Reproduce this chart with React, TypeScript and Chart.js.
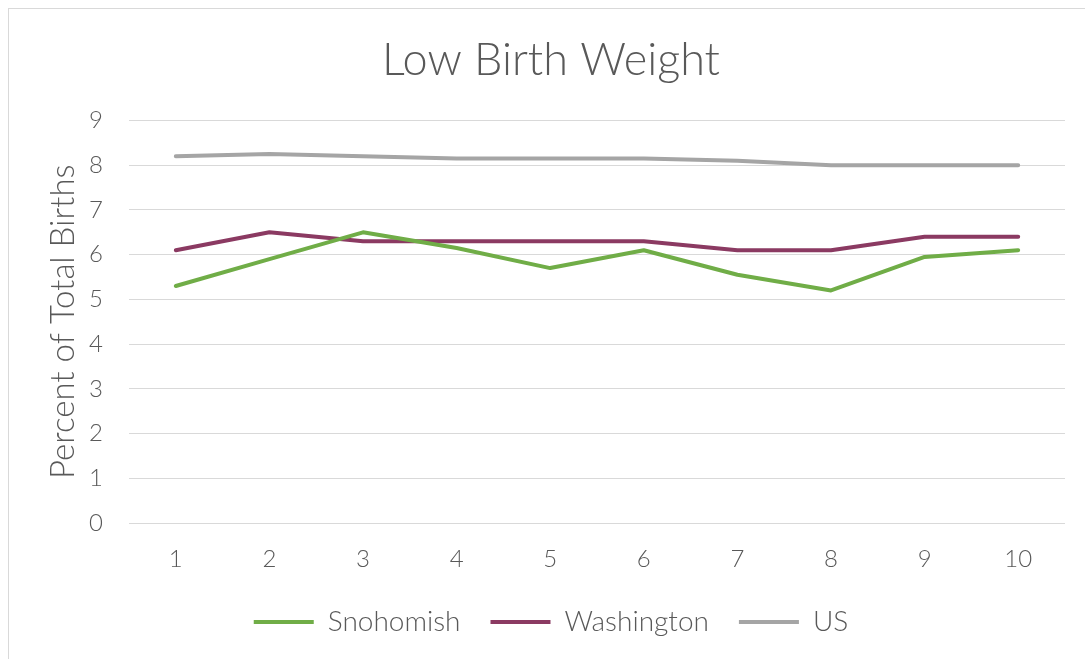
import React, { useEffect, useRef } from "react";
import { Chart, registerables } from "chart.js";

Chart.register(...registerables);

const categories = ["1", "2", "3", "4", "5", "6", "7", "8", "9", "10"];
const snohomish = [5.3, 5.9, 6.5, 6.15, 5.7, 6.1, 5.55, 5.2, 5.95, 6.1];
const washington = [6.1, 6.5, 6.3, 6.3, 6.3, 6.3, 6.1, 6.1, 6.4, 6.4];
const us = [8.2, 8.25, 8.2, 8.15, 8.15, 8.15, 8.1, 8.0, 8.0, 8.0];

const FONT = "Lato, 'Open Sans', sans-serif";
const TEXT = "#595959";

export default function App() {
  const ref = useRef<HTMLCanvasElement | null>(null);

  useEffect(() => {
    document.body.style.overflow = "hidden";
    const ctx = ref.current!;
    const mk = (label: string, data: number[], color: string) => ({
      label,
      data,
      borderColor: color,
      backgroundColor: color,
      borderWidth: 4,
      borderCapStyle: "round" as const,
      borderJoinStyle: "round" as const,
      pointRadius: 0,
      pointHoverRadius: 0,
      tension: 0,
      fill: false,
    });
    const chart = new Chart(ctx, {
      type: "line",
      data: {
        labels: categories,
        datasets: [
          mk("Snohomish", snohomish, "#70AD47"),
          mk("Washington", washington, "#8B3A62"),
          mk("US", us, "#A5A5A5"),
        ],
      },
      options: {
        animation: false,
        responsive: false,
        maintainAspectRatio: false,
        layout: { padding: { left: 37, right: 20, top: 0, bottom: 13 } },
        plugins: {
          tooltip: { enabled: false },
          title: {
            display: true,
            text: "Low Birth Weight",
            color: TEXT,
            font: { family: FONT, size: 45, weight: "300" },
            padding: { top: 33, bottom: 33.5 },
          },
          legend: {
            position: "bottom",
            labels: {
              usePointStyle: true,
              pointStyle: "line",
              pointStyleWidth: 60,
              padding: 30,
              color: TEXT,
              font: { family: FONT, size: 28, weight: "300" },
            },
          },
        },
        scales: {
          x: {
            offset: true,
            grid: { display: false, drawTicks: false },
            border: { display: false },
            ticks: {
              color: TEXT,
              padding: 22,
              font: { family: FONT, size: 24, weight: "300" },
            },
            afterFit: (s: any) => {
              s.height = 55;
            },
          },
          y: {
            min: 0,
            max: 9,
            ticks: {
              stepSize: 1,
              color: TEXT,
              padding: 26,
              font: { family: FONT, size: 24, weight: "300" },
            },
            grid: { color: "#D9D9D9", lineWidth: 1, drawTicks: false },
            border: { display: false },
            title: {
              display: true,
              text: "Percent of Total Births",
              color: TEXT,
              font: { family: FONT, size: 33, weight: "300" },
              padding: { top: 7, bottom: 0 },
            },
            afterFit: (s: any) => {
              s.width = 92;
            },
          },
        },
      },
    });
    return () => chart.destroy();
  }, []);

  return (
    <div style={{ position: "fixed", left: 0, top: 0, width: 1085, height: 659, background: "#fff" }}>
      <div
        style={{
          position: "absolute",
          left: 8,
          top: 8,
          width: 1100,
          height: 700,
          borderLeft: "1px solid #D9D9D9",
          borderTop: "1px solid #D9D9D9",
        }}
      />
      <canvas ref={ref} width={1085} height={659} style={{ position: "absolute", left: 0, top: 0 }} />
    </div>
  );
}
